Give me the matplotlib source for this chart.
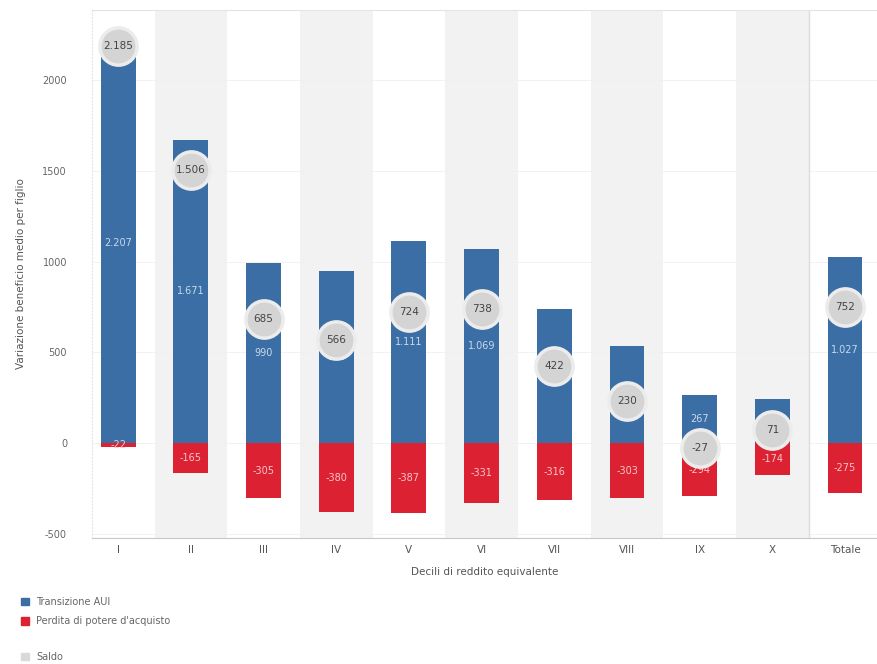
import numpy as np
import matplotlib
matplotlib.use("Agg")
from matplotlib import pyplot as plt
from matplotlib.patches import Patch

# Decili di reddito equivalente + totale
decili = ["I", "II", "III", "IV", "V", "VI", "VII", "VIII", "IX", "X", "Totale"]
transizione = [2207, 1671, 990, 946, 1111, 1069, 738, 533, 267, 245, 1027]
perdita = [-22, -165, -305, -380, -387, -331, -316, -303, -294, -174, -275]
saldo = [t + p for t, p in zip(transizione, perdita)]

blu = "#3b6ea5"
rosso = "#dc2232"
grigio_txt = "#666666"


def fmt(v):
    return f"{v:,}".replace(",", ".")


fig = plt.figure(figsize=(8.77, 6.64), dpi=100)
ax = fig.add_axes([92 / 877, 1 - 538 / 664, 785 / 877, 528 / 664])

x = np.arange(len(decili))

# fasce alternate
for i in range(len(decili)):
    if i % 2 == 1 and i < 10:
        ax.axvspan(i - 0.5, i + 0.5, color="#f2f2f2", zorder=0, lw=0)
ax.axvline(9.5, color="#dcdcdc", lw=1, zorder=1)

ax.bar(x, transizione, width=0.48, color=blu, zorder=2)
ax.bar(x, perdita, width=0.48, color=rosso, zorder=2)

for i in x:
    ax.text(i, transizione[i] / 2, fmt(transizione[i]), color="#c9d8ea",
            ha="center", va="center", fontsize=7, zorder=3)
    ax.text(i, perdita[i] / 2, fmt(perdita[i]), color="#f6c6ca",
            ha="center", va="center", fontsize=7, zorder=3)

# saldo come cerchi sopra le barre
ax.scatter(x, saldo, s=720, color="#d4d4d4", edgecolors="#ececec",
           linewidths=2.5, zorder=4)
for i in x:
    ax.text(i, saldo[i], fmt(saldo[i]), color="#444444", ha="center",
            va="center", fontsize=7.5, zorder=5)

ax.set_xlim(-0.36, 10.44)
ax.set_ylim(-523, 2386)
ax.set_yticks([-500, 0, 500, 1000, 1500, 2000])
ax.set_yticklabels(["-500", "0", "500", "1000", "1500", "2000"])
ax.set_xticks(x)
ax.set_xticklabels(decili)
ax.tick_params(axis="y", length=0, labelsize=7, labelcolor=grigio_txt, pad=18)
ax.tick_params(axis="x", length=0, labelsize=7.5, labelcolor="#555555", pad=5)
ax.grid(axis="y", color="#f0f0f0", lw=0.6, zorder=1)
ax.set_axisbelow(True)

ax.spines["right"].set_visible(False)
ax.spines["top"].set_color("#e4e4e4")
ax.spines["bottom"].set_color("#c8c8c8")
ax.spines["left"].set_color("#e4e4e4")
ax.spines["left"].set_linestyle((0, (1, 2)))

ax.set_ylabel("Variazione beneficio medio per figlio", fontsize=7.5,
              color="#555555", labelpad=12)
ax.set_xlabel("Decili di reddito equivalente", fontsize=7.5, color="#555555",
              labelpad=9)

fig.legend(handles=[Patch(color=blu, label="Transizione AUI"),
                    Patch(color=rosso, label="Perdita di potere d'acquisto")],
           loc="upper left", bbox_to_anchor=(12 / 877, 1 - 588 / 664),
           frameon=False, fontsize=7, handlelength=0.8, handleheight=0.8,
           labelspacing=1.0, handletextpad=0.8, labelcolor="#666666")
fig.legend(handles=[Patch(color="#d9d9d9", label="Saldo")],
           loc="upper left", bbox_to_anchor=(12 / 877, 1 - 643 / 664),
           frameon=False, fontsize=7, handlelength=0.8, handleheight=0.8,
           handletextpad=0.8, labelcolor="#666666")

fig.savefig("out.png", dpi=100)
